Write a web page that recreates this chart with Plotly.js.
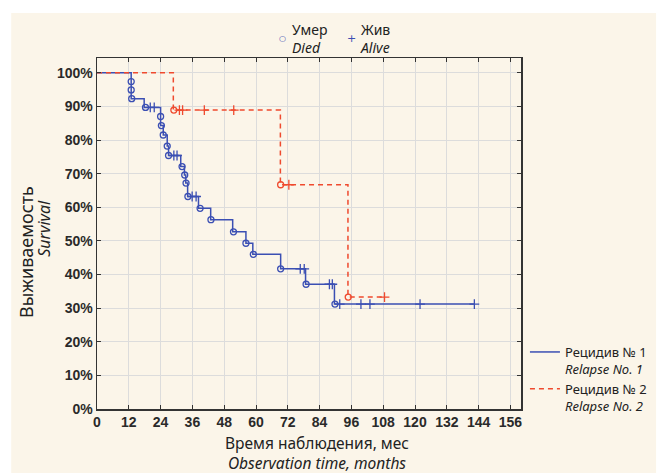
<!DOCTYPE html>
<html>
<head>
<meta charset="utf-8">
<script src="https://cdn.plot.ly/plotly-3.0.1.min.js"></script>
<style>
html,body{margin:0;padding:0;background:#ffffff;}
#chart{width:664px;height:473px;}
</style>
</head>
<body>
<div id="chart"></div>
<script>
// Relapse No. 1 — step curve (time of drop, survival after drop, %)
const blueTimes = [0, 12.9, 17.8, 24.0, 25.0, 26.5, 27.0, 31.6, 33.0, 33.5, 34.2, 38.3, 42.9, 51.2, 56.2, 58.8, 69.3, 78.7, 89.6, 142.4];
const blueSurv  = [100, 92.3, 89.7, 84.3, 81.5, 78.2, 75.4, 72.1, 69.6, 67.2, 63.2, 59.7, 56.3, 52.7, 49.3, 46.0, 41.7, 37.1, 31.2, 31.2];
// Relapse No. 1 — deaths (circles)
const blueDiedT = [12.9, 12.9, 13.1, 18.3, 24.0, 24.3, 25.0, 26.5, 27.0, 32.1, 33.1, 33.6, 34.3, 38.9, 43.0, 51.5, 56.2, 59.0, 69.3, 78.9, 89.8];
const blueDiedS = [97.4, 94.9, 92.3, 89.7, 87.0, 84.3, 81.5, 78.2, 75.4, 72.1, 69.6, 67.2, 63.2, 59.7, 56.3, 52.7, 49.3, 46.0, 41.7, 37.1, 31.2];
// Relapse No. 1 — censored (alive, crosses)
const blueAliveT = [20.1, 21.6, 29.0, 30.2, 35.9, 37.4, 76.7, 78.2, 87.7, 88.8, 91.6, 99.6, 103.0, 121.9, 142.4];
const blueAliveS = [89.7, 89.7, 75.4, 75.4, 63.2, 63.2, 41.7, 41.7, 37.1, 37.1, 31.2, 31.2, 31.2, 31.2, 31.2];

// Relapse No. 2
const redTimes = [0, 28.8, 69.2, 94.7, 108.5];
const redSurv  = [100, 88.9, 66.7, 33.3, 33.3];
const redDiedT = [29.0, 69.3, 94.8];
const redDiedS = [88.9, 66.7, 33.3];
const redAliveT = [31.1, 32.3, 40.5, 51.6, 72.4, 108.5];
const redAliveS = [88.9, 88.9, 88.9, 88.9, 66.7, 33.3];

const xTicks = [0, 12, 24, 36, 48, 60, 72, 84, 96, 108, 120, 132, 144, 156];
const yTicks = [0, 10, 20, 30, 40, 50, 60, 70, 80, 90, 100];

const seriesNames = ["Рецидив № 1<br><i>Relapse No. 1</i>", "Рецидив № 2<br><i>Relapse No. 2</i>"];
const diedLabel = ["Умер", "Died"];
const aliveLabel = ["Жив", "Alive"];
const xTitle = ["Время наблюдения, мес", "Observation time, months"];
const yTitle = ["Выживаемость", "Survival"];

const BLUE = "#3b4fb3";
const RED = "#ef4a2e";

const traces = [
  {x: blueTimes, y: blueSurv, type: "scatter", mode: "lines", line: {shape: "hv", color: BLUE, width: 1.5},
   name: seriesNames[0], legend: "legend2", hoverinfo: "skip"},
  {x: redTimes, y: redSurv, type: "scatter", mode: "lines", line: {shape: "hv", color: RED, width: 1.5, dash: "5px,4px"},
   name: seriesNames[1], legend: "legend2", hoverinfo: "skip"},
  {x: blueDiedT, y: blueDiedS, type: "scatter", mode: "markers", showlegend: false,
   marker: {symbol: "circle-open", size: 6, color: BLUE, line: {width: 1.3, color: BLUE}}},
  {x: blueAliveT, y: blueAliveS, type: "scatter", mode: "markers", showlegend: false,
   marker: {symbol: "cross-thin-open", size: 7, color: BLUE, line: {width: 1.3, color: BLUE}}},
  {x: redDiedT, y: redDiedS, type: "scatter", mode: "markers", showlegend: false,
   marker: {symbol: "circle-open", size: 6, color: RED, line: {width: 1.3, color: RED}}},
  {x: redAliveT, y: redAliveS, type: "scatter", mode: "markers", showlegend: false,
   marker: {symbol: "cross-thin-open", size: 7, color: RED, line: {width: 1.3, color: RED}}}
];

const tickFont = {family: "'Liberation Sans Narrow', 'Arial Narrow', 'Liberation Sans', sans-serif", size: 14, color: "#2a2a2a", weight: "bold"};
const txtFam = "'Noto Sans', 'Open Sans', sans-serif";

// plot area in px: left 97, right 527, top 58, bottom 409
const PL = 97, PW = 430, PB = 409, PH = 351;
const px = v => (v - PL) / PW;
const py = v => (PB - v) / PH;

function label(x, y, text, opts) {
  return Object.assign({xref: "paper", yref: "paper", x: px(x), y: py(y), xanchor: "center", yanchor: "middle",
    showarrow: false, text: text, font: {family: txtFam, size: 14, color: "#222"}}, opts || {});
}

const layout = {
  width: 664, height: 473,
  margin: {l: 97, r: 137, t: 58, b: 64},
  paper_bgcolor: "#ffffff",
  plot_bgcolor: "#fefefe",
  showlegend: true,
  xaxis: {
    range: [0, 160], tickvals: xTicks, ticktext: xTicks.map(String),
    ticks: "inside", ticklen: 4, tickcolor: "#333", tickwidth: 1,
    showline: true, linecolor: "#333", linewidth: 1.5, mirror: "ticks",
    showgrid: true, gridcolor: "#dcdcdc", gridwidth: 1, zeroline: false,
    tickfont: tickFont
  },
  yaxis: {
    range: [0, 104.4], tickvals: yTicks, ticktext: yTicks.map(v => v + "%"),
    ticks: "inside", ticklen: 4, tickcolor: "#333", tickwidth: 1,
    showline: true, linecolor: "#333", linewidth: 1.5, mirror: "ticks",
    showgrid: true, gridcolor: "#dcdcdc", gridwidth: 1, zeroline: false,
    tickfont: tickFont
  },
  legend2: {
    orientation: "v", x: px(531), xanchor: "left", y: py(337), yanchor: "top",
    bgcolor: "rgba(0,0,0,0)", font: {family: txtFam, size: 13, color: "#222"},
    itemwidth: 30, valign: "top", tracegroupgap: 0
  },
  annotations: [
    // axis titles
    label(320, 452.5, xTitle[0] + "<br><i>" + xTitle[1] + "</i>", {borderpad: 0, font: {family: txtFam, size: 15.5, color: "#222"}}),
    label(25, 252, yTitle[0], {textangle: -90, font: {family: txtFam, size: 18, color: "#222"}}),
    label(43, 228, "<i>" + yTitle[1] + "</i>", {textangle: -90, font: {family: txtFam, size: 16, color: "#222"}}),
    // marker key
    label(285, 39, "○", {font: {family: "DejaVu Sans", size: 8, color: BLUE}}),
    label(293, 39, diedLabel[0] + "<br><i>" + diedLabel[1] + "</i>", {xanchor: "left", align: "left"}),
    label(355, 39, "+", {font: {family: "DejaVu Sans", size: 11, color: BLUE}}),
    label(362, 39, aliveLabel[0] + "<br><i>" + aliveLabel[1] + "</i>", {xanchor: "left", align: "left"})
  ],
  shapes: [
    {type: "rect", xref: "paper", yref: "paper", layer: "below",
     x0: px(10), x1: px(664), y0: py(473), y1: py(13),
     fillcolor: "#fbf5e9", line: {width: 0}}
  ]
};

Plotly.newPlot("chart", traces, layout, {displayModeBar: false, staticPlot: true});
</script>
</body>
</html>
